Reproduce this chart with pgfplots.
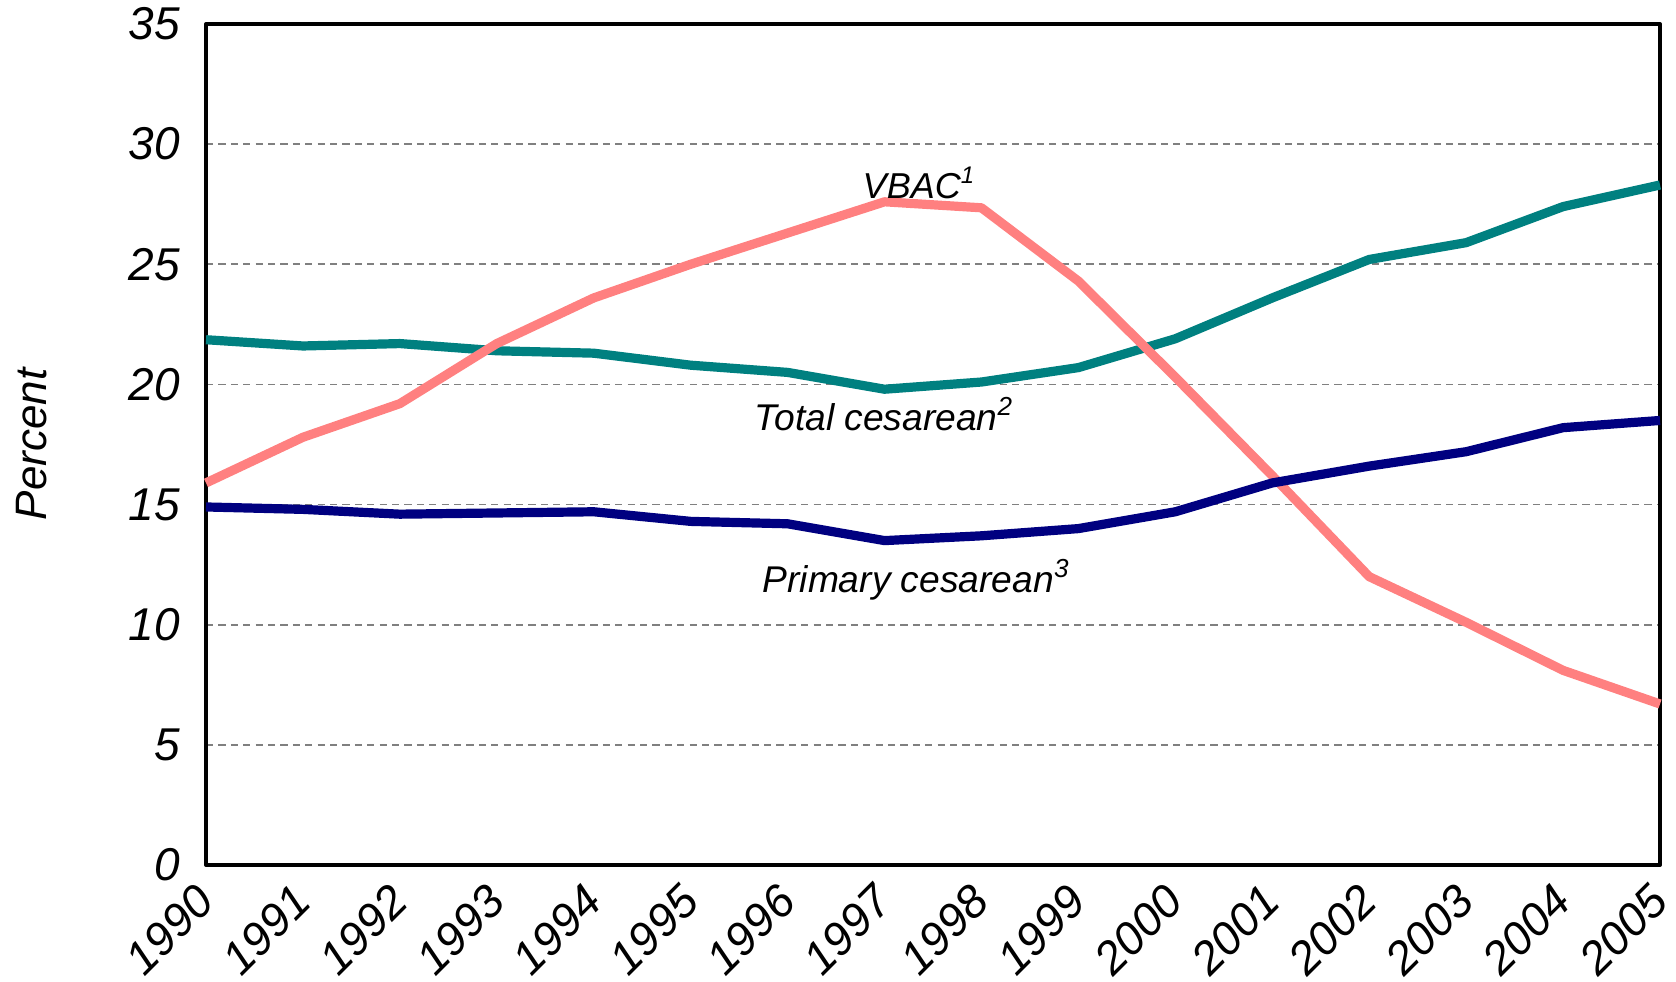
\documentclass[border=0pt]{standalone}
\usepackage{fontspec}
\setmainfont{Liberation Sans}
\usepackage{pgfplots}
\pgfplotsset{compat=1.18}
\usetikzlibrary{calc}
\definecolor{vbac}{HTML}{FF8080}
\definecolor{tealc}{HTML}{008080}
\definecolor{navyc}{HTML}{000080}
\begin{document}
\begin{tikzpicture}
\begin{axis}[
  scale only axis,
  width=363.5pt, height=210.25pt,
  xmin=1990, xmax=2005, ymin=0, ymax=35,
  xtick={1990,...,2005},
  ytick={0,5,...,35},
  /pgf/number format/assume math mode=true,
  /pgf/number format/1000 sep={},
  tick style={draw=none},
  axis line style={line width=1pt},
  ymajorgrids,
  major grid style={gray, line width=0.4pt, dash pattern=on 1.8pt off 1.3pt},
  ticklabel style={font=\fontsize{11.5}{13}\selectfont\itshape},
  yticklabel style={xshift=-3pt},
  xticklabel style={anchor=east, rotate=45, inner sep=0pt},
  xticklabel shift=7pt,
  ylabel={Percent},
  ylabel style={font=\fontsize{11}{13}\selectfont\itshape, at={(axis description cs:-0.1197,0.5)}, anchor=center},
  clip=false,
  line join=round,
]
\addplot[tealc, line width=2.3pt] coordinates {
(1990,21.86) (1991,21.6) (1992,21.7) (1993,21.4) (1994,21.3) (1995,20.8) (1996,20.5) (1997,19.8)
(1998,20.1) (1999,20.7) (2000,21.9) (2001,23.6) (2002,25.2) (2003,25.9) (2004,27.4) (2005,28.3)};
\addplot[vbac, line width=2.3pt] coordinates {
(1990,15.9) (1991,17.8) (1992,19.2) (1993,21.7) (1994,23.6) (1995,25.0) (1996,26.3) (1997,27.6)
(1998,27.35) (1999,24.3) (2000,20.3) (2001,16.2) (2002,12.0) (2003,10.1) (2004,8.1) (2005,6.7)};
\addplot[navyc, line width=2.3pt] coordinates {
(1990,14.9) (1991,14.8) (1992,14.6) (1993,14.65) (1994,14.7) (1995,14.3) (1996,14.2) (1997,13.5)
(1998,13.7) (1999,14.0) (2000,14.7) (2001,15.9) (2002,16.6) (2003,17.2) (2004,18.2) (2005,18.5)};
\node[font=\fontsize{9}{11}\selectfont\itshape] at (axis cs:1997.36,28.4) {VBAC\textsuperscript{1}};
\node[font=\fontsize{9.3}{11}\selectfont\itshape] at (axis cs:1997.0,18.77) {Total cesarean\textsuperscript{2}};
\node[font=\fontsize{9.3}{11}\selectfont\itshape] at (axis cs:1997.33,11.86) {Primary cesarean\textsuperscript{3}};
\end{axis}
\pgfresetboundingbox
\path ($(current axis.south west)+(-51.5pt,-29.25pt)$) rectangle ($(current axis.north east)+(4pt,6pt)$);
\end{tikzpicture}
\end{document}
